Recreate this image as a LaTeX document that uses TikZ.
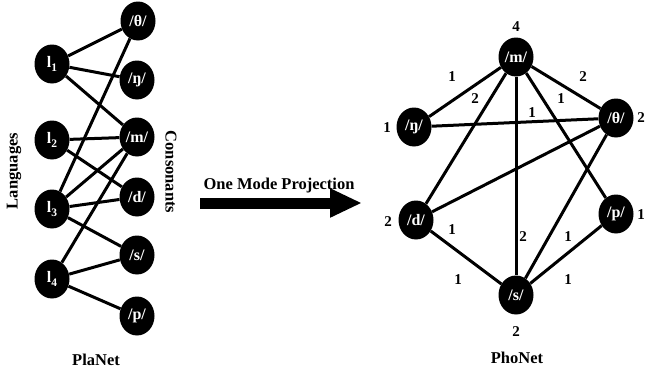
\documentclass[tikz,border=0pt]{standalone}
\usepackage{fontspec}
\setmainfont{Liberation Serif}
\usetikzlibrary{shapes.geometric,arrows.meta}
\begin{document}
\begin{tikzpicture}[x=1pt,y=-1pt,
  vtx/.style={ellipse,fill=black,draw=none,minimum width=35pt,minimum height=39pt,inner sep=0pt,text=white,font=\fontsize{16}{16}\selectfont\bfseries},
  edge/.style={line width=3pt},
  lbl/.style={font=\fontsize{16.5}{16.5}\selectfont\bfseries,inner sep=0pt},
  wt/.style={font=\fontsize{15}{15}\selectfont\bfseries,inner sep=0pt}]
\useasboundingbox (0,0) rectangle (646,372);
\newcommand{\lang}[1]{l\raisebox{-0.6ex}{\fontsize{11.5}{11.5}\selectfont #1}}
% PlaNet
\node[vtx] (l1) at (52,64) {\lang{1}};
\node[vtx] (l2) at (52,140) {\lang{2}};
\node[vtx] (l3) at (52,209) {\lang{3}};
\node[vtx] (l4) at (52,279) {\lang{4}};
\node[vtx] (pth) at (138,21) {/θ/};
\node[vtx] (png) at (137,80) {/ŋ/};
\node[vtx] (pm) at (137,137) {/m/};
\node[vtx] (pd) at (137,197) {/d/};
\node[vtx] (ps) at (137,255) {/s/};
\node[vtx] (pp) at (137,316) {/p/};
\draw[edge] (l1) -- (pth);
\draw[edge] (l1) -- (png);
\draw[edge] (l1) -- (pm);
\draw[edge] (l2) -- (pm);
\draw[edge] (l2) -- (pd);
\draw[edge] (l3) -- (pth);
\draw[edge] (l3) -- (pm);
\draw[edge] (l3) -- (pd);
\draw[edge] (l3) -- (ps);
\draw[edge] (l4) -- (pm);
\draw[edge] (l4) -- (ps);
\draw[edge] (l4) -- (pp);
\node[lbl,rotate=90] (langs) at (14,171) {Languages};
\node[lbl,rotate=-90] (cons) at (171,172) {Consonants};
\node[lbl] (planet) at (96,360) {PlaNet};
% arrow
\node[lbl] (omp) at (279,186) {One Mode Projection};
\coordinate (arrS) at (200,203);
\coordinate (arrE) at (362,203);
\draw[line width=11pt,-{Triangle[length=32pt 0,width=27pt 0]}] (arrS) -- (arrE);
% PhoNet
\node[vtx] (m) at (516,57) {/m/};
\node[vtx] (ng) at (414,127) {/ŋ/};
\node[vtx] (th) at (616,118) {/θ/};
\node[vtx] (d) at (416,220) {/d/};
\node[vtx] (p) at (616,214) {/p/};
\node[vtx] (s) at (516,295) {/s/};
\draw[edge] (m) -- (ng);
\draw[edge] (m) -- (d);
\draw[edge] (m) -- (s);
\draw[edge] (m) -- (p);
\draw[edge] (m) -- (th);
\draw[edge] (ng) -- (th);
\draw[edge] (th) -- (d);
\draw[edge] (th) -- (s);
\draw[edge] (d) -- (s);
\draw[edge] (s) -- (p);
\node[wt] (wm) at (516,27) {4};
\node[wt] (wng) at (387,128) {1};
\node[wt] (wth) at (641,118) {2};
\node[wt] (wd) at (388,222) {2};
\node[wt] (wp) at (641,215) {1};
\node[wt] (ws) at (516,332) {2};
\node[wt] (e1) at (452,77) {1};
\node[wt] (e2) at (475,99) {2};
\node[wt] (e3) at (583,77) {2};
\node[wt] (e4) at (561,99) {1};
\node[wt] (e5) at (532,113) {1};
\node[wt] (e6) at (452,230) {1};
\node[wt] (e7) at (523,237) {2};
\node[wt] (e8) at (568,237) {1};
\node[wt] (e9) at (458,280) {1};
\node[wt] (e10) at (568,280) {1};
\node[lbl] (phonet) at (517,358) {PhoNet};
\end{tikzpicture}
\end{document}
